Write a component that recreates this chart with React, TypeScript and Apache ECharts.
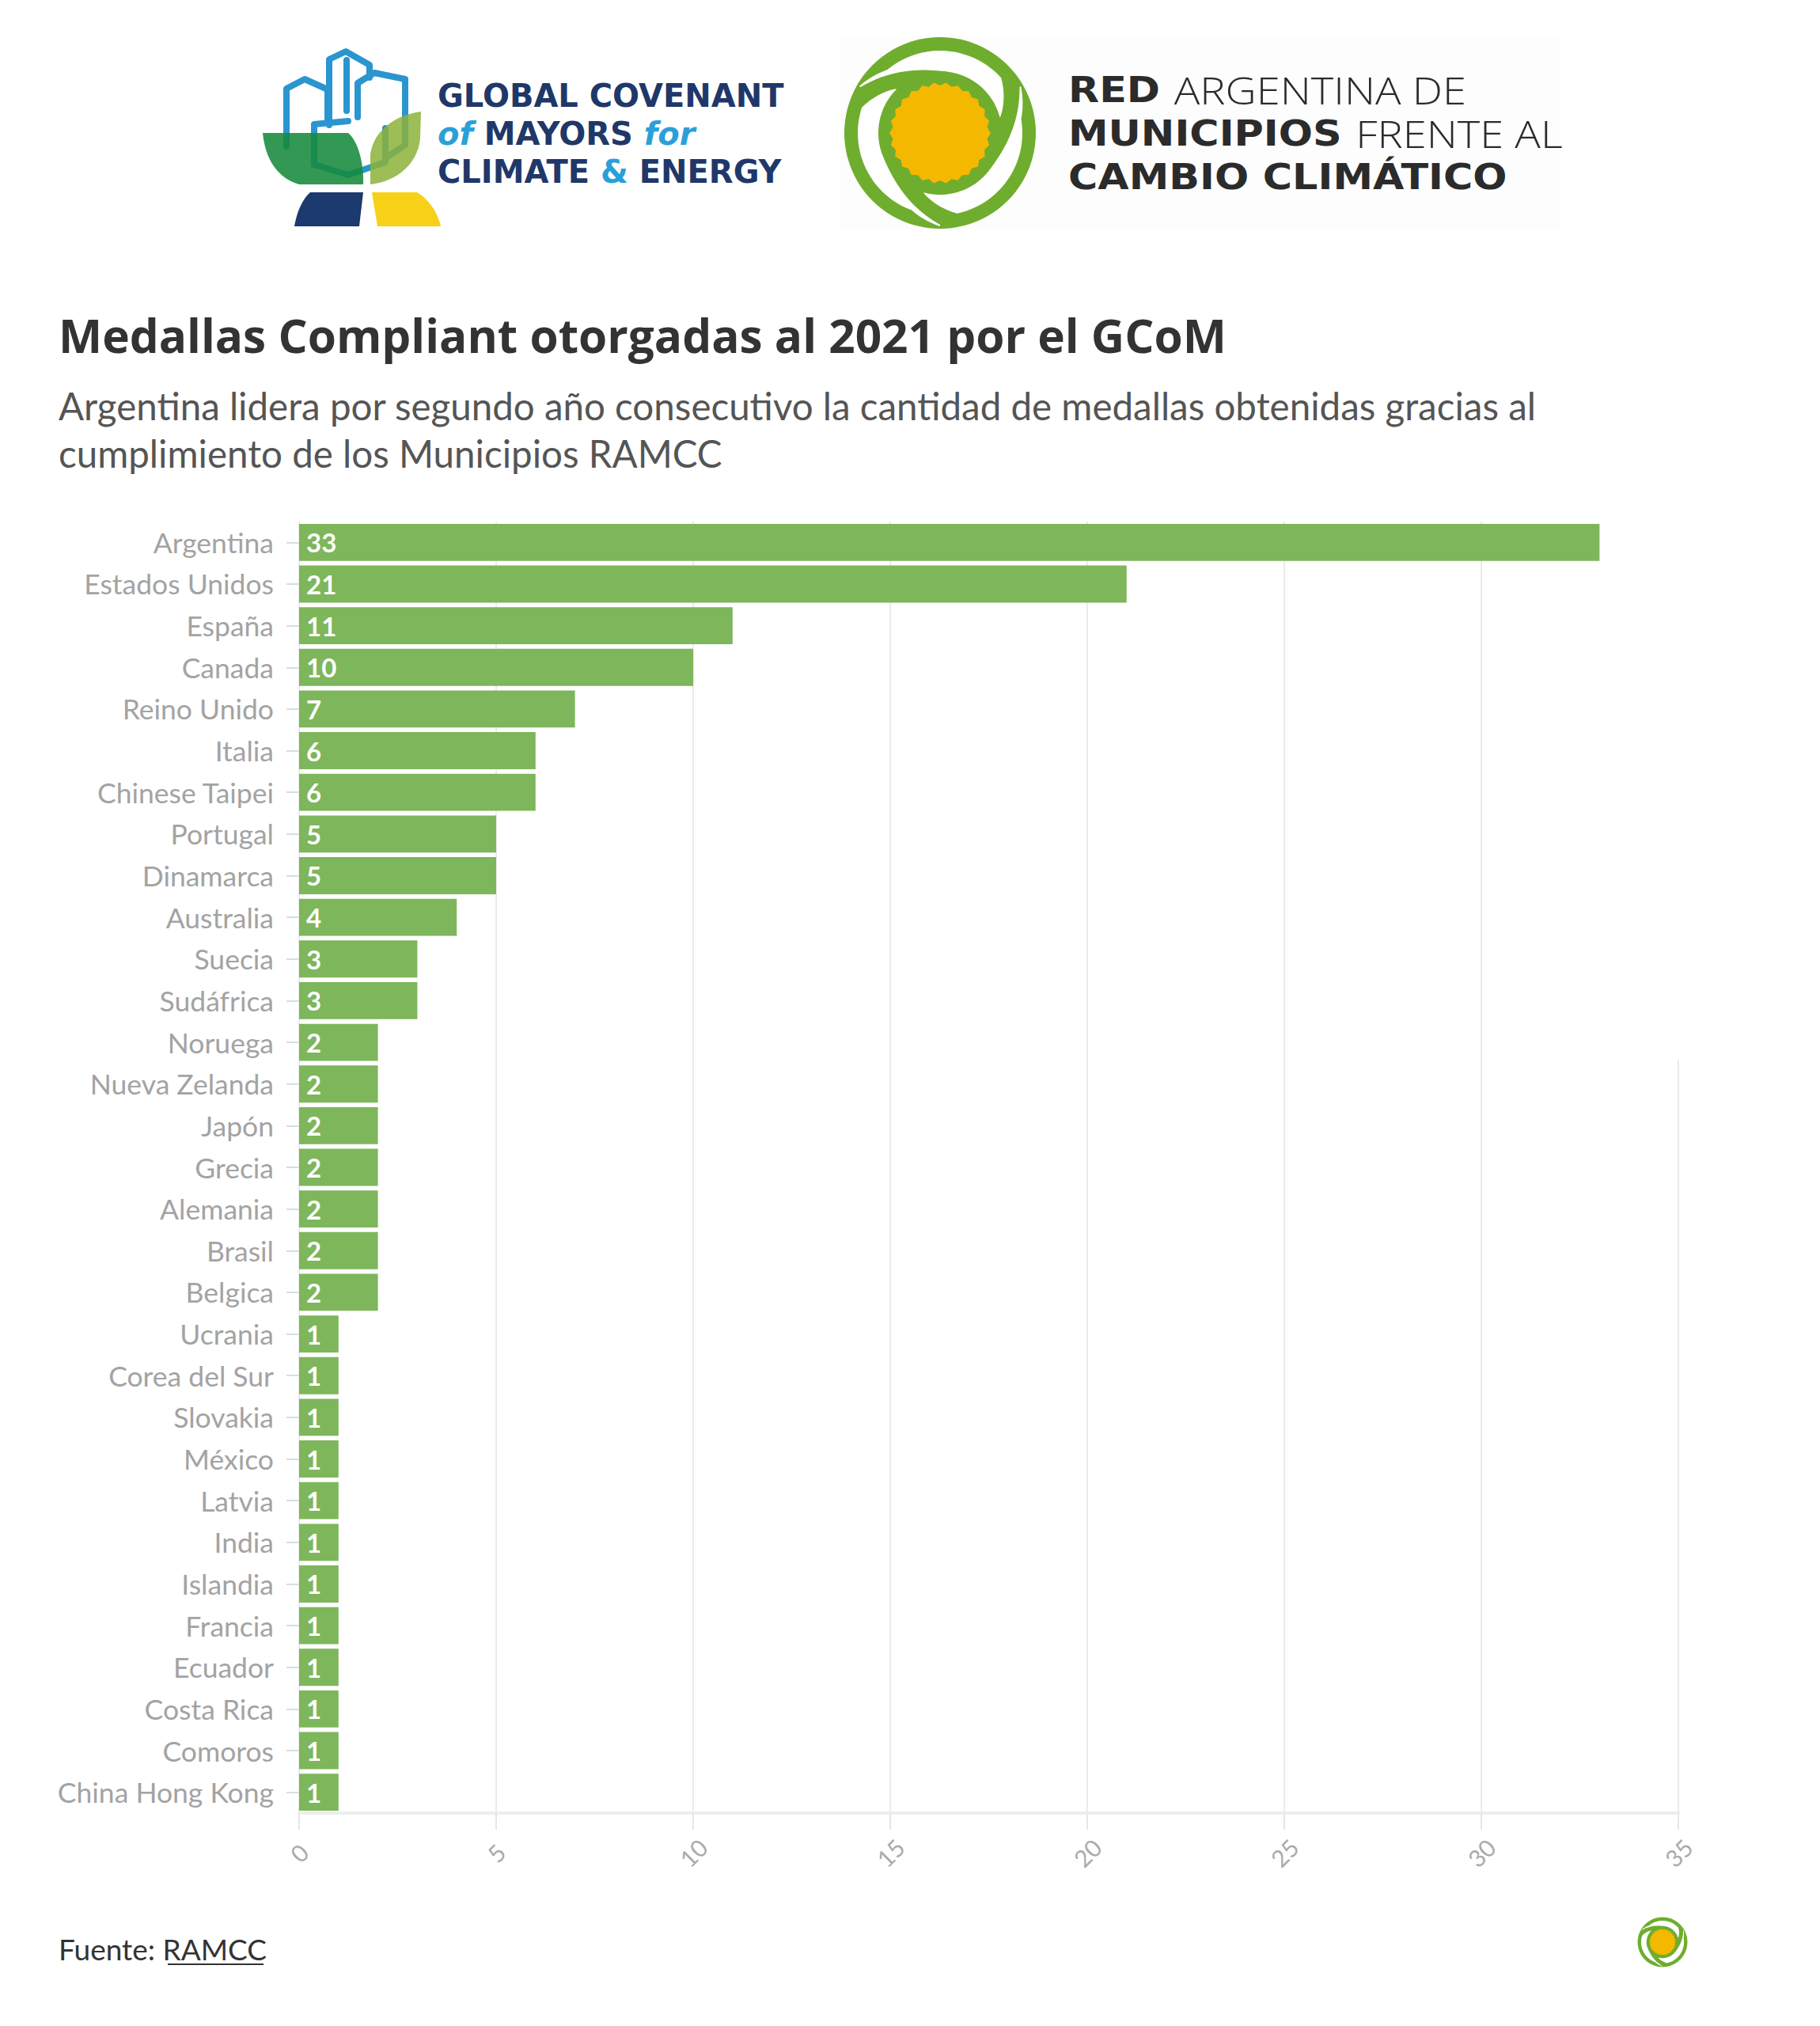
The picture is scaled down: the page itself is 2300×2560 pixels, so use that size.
import React, { useEffect, useRef } from "react";
import * as echarts from "echarts";

const categories = [
  "Argentina", "Estados Unidos", "España", "Canada", "Reino Unido", "Italia",
  "Chinese Taipei", "Portugal", "Dinamarca", "Australia", "Suecia", "Sudáfrica",
  "Noruega", "Nueva Zelanda", "Japón", "Grecia", "Alemania", "Brasil", "Belgica",
  "Ucrania", "Corea del Sur", "Slovakia", "México", "Latvia", "India", "Islandia",
  "Francia", "Ecuador", "Costa Rica", "Comoros", "China Hong Kong",
];
const medals = [33, 21, 11, 10, 7, 6, 6, 5, 5, 4, 3, 3, 2, 2, 2, 2, 2, 2, 2, 1, 1, 1, 1, 1, 1, 1, 1, 1, 1, 1, 1];
const xTicks = [0, 5, 10, 15, 20, 25, 30, 35];

const titleText = "Medallas Compliant otorgadas al 2021 por el GCoM";
const subtitleLines = [
  "Argentina lidera por segundo año consecutivo la cantidad de medallas obtenidas gracias al",
  "cumplimiento de los Municipios RAMCC",
];
const sourcePrefix = "Fuente: ";
const sourceName = "RAMCC";

const gcLines = [
  "{b|GLOBAL COVENANT}",
  "{i|of }{b|MAYORS }{i|for}",
  "{b|CLIMATE }{a|& }{b|ENERGY}",
];
const ramccLines = [
  "{h|RED }{l|ARGENTINA DE}",
  "{h|MUNICIPIOS }{l|FRENTE AL}",
  "{h|CAMBIO CLIMÁTICO}",
];

const BAR = "#7eb65b";
const FONT = "Lato";

echarts.graphic.registerShape(
  "gcLeafDark",
  echarts.graphic.extendPath("M332 168 L440 168 C452 178 460 205 459 233 L378 233 C350 225 335 200 332 168 Z", {})
);
echarts.graphic.registerShape(
  "gcLeafOlive",
  echarts.graphic.extendPath("M468 233 L468 195 C472 165 500 145 532 141 L531 175 C528 205 505 228 468 233 Z", {})
);
echarts.graphic.registerShape(
  "gcPetalNavy",
  echarts.graphic.extendPath("M392 243 L459 243 L454 286 L372 286 C375 268 382 252 392 243 Z", {})
);
echarts.graphic.registerShape(
  "gcPetalYellow",
  echarts.graphic.extendPath("M470 243 L527 243 C542 252 553 268 557 286 L477 286 Z", {})
);

function ramccLogo(cx: number, cy: number, s: number) {
  const els: any[] = [];
  const green = "#6fad2e";
  els.push({ type: "circle", shape: { cx, cy, r: 121 * s }, style: { fill: green }, z: 10 });
  const lerp = (a: number, b: number, t: number) => a + (b - a) * t;
  const starts = [-150, -30, 90];
  const span = 135;
  starts.forEach((t0) => {
    const outer: number[][] = [];
    const inner: number[][] = [];
    const N = 40;
    for (let i = 0; i <= N; i++) {
      const t = i / N;
      const th = ((t0 + t * span) * Math.PI) / 180;
      let ro: number;
      if (t < 0.15) ro = lerp(118, 104, t / 0.15);
      else if (t < 0.8) ro = 104;
      else ro = lerp(104, 79, (t - 0.8) / 0.2);
      const ri = t < 0.5 ? 78 + 38 * Math.pow(1 - t / 0.5, 2) : 78;
      outer.push([cx + ro * s * Math.cos(th), cy + ro * s * Math.sin(th)]);
      inner.push([cx + ri * s * Math.cos(th), cy + ri * s * Math.sin(th)]);
    }
    els.push({
      type: "polygon",
      shape: { points: outer.concat(inner.reverse()) },
      style: { fill: "#ffffff" },
      z: 11,
    });
  });
  const sun: number[][] = [];
  const teeth = 26;
  for (let i = 0; i < teeth * 2; i++) {
    const th = (i * Math.PI) / teeth;
    const r = (i % 2 === 0 ? 64 : 60) * s;
    sun.push([cx + r * Math.cos(th), cy + r * Math.sin(th)]);
  }
  els.push({ type: "polygon", shape: { points: sun }, style: { fill: "#f5b800" }, z: 12 });
  return els;
}

function buildGraphics() {
  const g: any[] = [];
  g.push({ type: "rect", shape: { x: 1063, y: 46, width: 910, height: 244 }, style: { fill: "#fdfdfd" }, z: 1 });
  const blue = "#2a95cf";
  const bl = (pts: number[][]) => ({
    type: "polyline",
    shape: { points: pts },
    style: { stroke: blue, lineWidth: 8, fill: null, lineJoin: "round", lineCap: "round" },
    z: 10,
  });
  g.push(bl([[362, 185], [362, 112], [385, 100], [414, 113], [414, 153]]));
  g.push(bl([[416, 158], [416, 75], [437, 65], [467, 82], [467, 98]]));
  g.push(bl([[438, 76], [438, 140]]));
  g.push(bl([[452, 148], [452, 105], [473, 92], [512, 100], [512, 183], [487, 200]]));
  g.push(bl([[397, 208], [397, 157], [440, 153]]));
  g.push(bl([[397, 208], [440, 221], [487, 205], [487, 162]]));
  g.push({ type: "gcLeafDark", x: 0, y: 0, style: { fill: "#168a3c", opacity: 0.88 }, z: 11 });
  g.push({ type: "gcLeafOlive", x: 0, y: 0, style: { fill: "#8cb23a", opacity: 0.85 }, z: 11 });
  g.push({ type: "gcPetalNavy", x: 0, y: 0, style: { fill: "#1d3a6e" }, z: 11 });
  g.push({ type: "gcPetalYellow", x: 0, y: 0, style: { fill: "#f7d117" }, z: 11 });
  const gcBase = [141, 189, 237];
  gcLines.forEach((t, i) => {
    g.push({
      type: "text",
      x: 553,
      y: gcBase[i],
      z: 12,
      style: {
        text: t,
        textAlign: "left",
        textVerticalAlign: "bottom",
        verticalAlign: "bottom",
        rich: {
          b: { fontSize: 40, fontWeight: "bold", fontFamily: "DejaVu Sans", fill: "#1f3869", color: "#1f3869" },
          i: { fontSize: 40, fontStyle: "italic", fontWeight: "bold", fontFamily: "DejaVu Sans", fill: "#2aa0d8", color: "#2aa0d8" },
          a: { fontSize: 40, fontWeight: "bold", fontFamily: "DejaVu Sans", fill: "#2aa0d8", color: "#2aa0d8" },
        },
      },
    });
  });
  ramccLogo(1188, 168, 1).forEach((e) => g.push(e));
  const rBase = [137, 192, 246];
  ramccLines.forEach((t, i) => {
    g.push({
      type: "text",
      x: 1350,
      y: rBase[i],
      scaleX: 1.13,
      z: 12,
      style: {
        text: t,
        textAlign: "left",
        textVerticalAlign: "bottom",
        verticalAlign: "bottom",
        rich: {
          h: { fontSize: 45, fontWeight: "bold", fontFamily: "DejaVu Sans", fill: "#2b2b2b", color: "#2b2b2b" },
          l: { fontSize: 48, fontWeight: 300, fontFamily: "Open Sans", fill: "#2b2b2b", color: "#2b2b2b" },
        },
      },
    });
  });
  g.push({
    type: "text",
    x: 74,
    y: 423,
    style: {
      text: titleText,
      fontSize: 58.5,
      fontWeight: "bold",
      fontFamily: "Open Sans",
      fill: "#333333",
      textAlign: "left",
      textVerticalAlign: "middle",
      verticalAlign: "middle",
    },
  });
  subtitleLines.forEach((t, i) => {
    g.push({
      type: "text",
      x: 74,
      y: 512 + i * 60,
      style: {
        text: t,
        fontSize: 47.5,
        fontFamily: FONT,
        fill: "#555555",
        textAlign: "left",
        textVerticalAlign: "middle",
        verticalAlign: "middle",
      },
    });
  });
  g.push({ type: "rect", shape: { x: 2110, y: 640, width: 24, height: 699 }, style: { fill: "#ffffff" }, z: 100 });
  g.push({
    type: "text",
    x: 74,
    y: 2462,
    style: {
      text: "{p|" + sourcePrefix + "}{u|" + sourceName + "}",
      textAlign: "left",
      textVerticalAlign: "middle",
      verticalAlign: "middle",
      rich: {
        p: { fontSize: 37, fontFamily: FONT, fill: "#333333", color: "#333333" },
        u: { fontSize: 37, fontFamily: FONT, fill: "#333333", color: "#333333" },
      },
    },
  });
  g.push({ type: "line", shape: { x1: 212, y1: 2482, x2: 333, y2: 2482 }, style: { stroke: "#333333", lineWidth: 2 } });
  ramccLogo(2101, 2454, 0.26).forEach((e) => g.push(e));
  return g;
}

export default function App() {
  const ref = useRef<HTMLDivElement>(null);
  useEffect(() => {
    document.body.style.margin = "0";
    if (!ref.current) return;
    const chart = echarts.init(ref.current, undefined, { renderer: "svg" });
    chart.setOption({
      animation: false,
      backgroundColor: "#ffffff",
      grid: { left: 378, right: 179, top: 659, bottom: 269, containLabel: false },
      xAxis: {
        type: "value",
        min: xTicks[0],
        max: xTicks[xTicks.length - 1],
        interval: xTicks[1] - xTicks[0],
        axisLabel: {
          rotate: 45,
          align: "center",
          verticalAlign: "middle",
          margin: 50,
          fontSize: 30,
          color: "#ababab",
          fontFamily: FONT,
          formatter: (v: number) => String(v),
        },
        splitLine: { show: true, lineStyle: { color: "#ebebeb", width: 2 } },
        axisLine: { show: true, lineStyle: { color: "#eeeeee", width: 4 } },
        axisTick: { show: true, length: 21, lineStyle: { color: "#e6e6e6", width: 2 } },
      },
      yAxis: {
        type: "category",
        data: categories,
        inverse: true,
        axisLine: { show: false },
        axisTick: { show: true, alignWithLabel: true, length: 16, lineStyle: { color: "#dcdcdc", width: 2 } },
        axisLabel: { margin: 32, fontSize: 35.5, color: "#a3a3a3", fontFamily: FONT },
      },
      series: [
        {
          type: "bar",
          data: medals,
          barCategoryGap: "11%",
          itemStyle: { color: BAR },
          label: {
            show: true,
            position: "insideLeft",
            distance: 9,
            color: "#ffffff",
            fontWeight: "bold",
            fontSize: 33,
            fontFamily: FONT,
          },
          silent: true,
        },
      ],
      graphic: { elements: buildGraphics() },
    });
    return () => chart.dispose();
  }, []);
  return <div ref={ref} style={{ width: 2300, height: 2560 }} />;
}
